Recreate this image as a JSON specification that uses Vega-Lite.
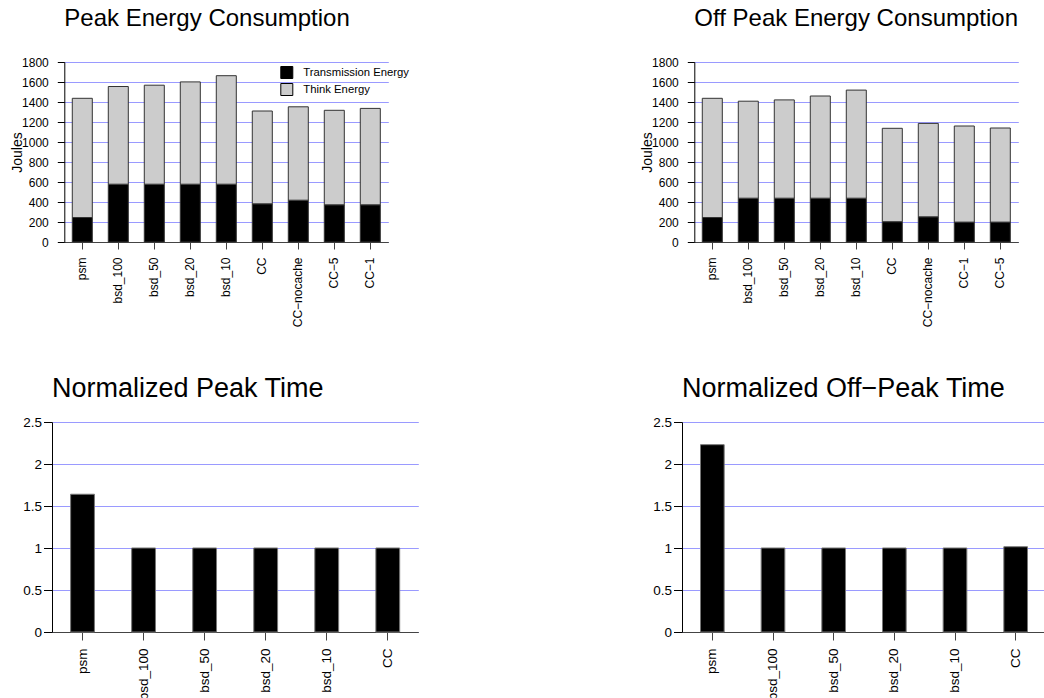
{
  "$schema": "https://vega.github.io/schema/vega-lite/v6.json",
  "background": "white",
  "padding": {"left": 10, "top": 7, "right": 0, "bottom": 0},
  "datasets": {
    "peak": [
      {"config": "psm", "series": "Transmission Energy", "joules": 245},
      {"config": "psm", "series": "Think Energy", "joules": 1192},
      {"config": "bsd_100", "series": "Transmission Energy", "joules": 578},
      {"config": "bsd_100", "series": "Think Energy", "joules": 977},
      {"config": "bsd_50", "series": "Transmission Energy", "joules": 578},
      {"config": "bsd_50", "series": "Think Energy", "joules": 990},
      {"config": "bsd_20", "series": "Transmission Energy", "joules": 578},
      {"config": "bsd_20", "series": "Think Energy", "joules": 1023},
      {"config": "bsd_10", "series": "Transmission Energy", "joules": 578},
      {"config": "bsd_10", "series": "Think Energy", "joules": 1085},
      {"config": "CC", "series": "Transmission Energy", "joules": 382},
      {"config": "CC", "series": "Think Energy", "joules": 928},
      {"config": "CC−nocache", "series": "Transmission Energy", "joules": 418},
      {"config": "CC−nocache", "series": "Think Energy", "joules": 934},
      {"config": "CC−5", "series": "Transmission Energy", "joules": 372},
      {"config": "CC−5", "series": "Think Energy", "joules": 945},
      {"config": "CC−1", "series": "Transmission Energy", "joules": 372},
      {"config": "CC−1", "series": "Think Energy", "joules": 964}
    ],
    "offpeak": [
      {"config": "psm", "series": "Transmission Energy", "joules": 245},
      {"config": "psm", "series": "Think Energy", "joules": 1192},
      {"config": "bsd_100", "series": "Transmission Energy", "joules": 438},
      {"config": "bsd_100", "series": "Think Energy", "joules": 970},
      {"config": "bsd_50", "series": "Transmission Energy", "joules": 438},
      {"config": "bsd_50", "series": "Think Energy", "joules": 983},
      {"config": "bsd_20", "series": "Transmission Energy", "joules": 438},
      {"config": "bsd_20", "series": "Think Energy", "joules": 1022},
      {"config": "bsd_10", "series": "Transmission Energy", "joules": 438},
      {"config": "bsd_10", "series": "Think Energy", "joules": 1081},
      {"config": "CC", "series": "Transmission Energy", "joules": 203},
      {"config": "CC", "series": "Think Energy", "joules": 934},
      {"config": "CC−nocache", "series": "Transmission Energy", "joules": 252},
      {"config": "CC−nocache", "series": "Think Energy", "joules": 934},
      {"config": "CC−1", "series": "Transmission Energy", "joules": 199},
      {"config": "CC−1", "series": "Think Energy", "joules": 961},
      {"config": "CC−5", "series": "Transmission Energy", "joules": 199},
      {"config": "CC−5", "series": "Think Energy", "joules": 941}
    ],
    "npeak": [
      {"config": "psm", "time": 1.64},
      {"config": "bsd_100", "time": 1.0},
      {"config": "bsd_50", "time": 1.0},
      {"config": "bsd_20", "time": 1.0},
      {"config": "bsd_10", "time": 1.0},
      {"config": "CC", "time": 1.0}
    ],
    "noffpeak": [
      {"config": "psm", "time": 2.23},
      {"config": "bsd_100", "time": 1.0},
      {"config": "bsd_50", "time": 1.0},
      {"config": "bsd_20", "time": 1.0},
      {"config": "bsd_10", "time": 1.0},
      {"config": "CC", "time": 1.015}
    ]
  },
  "config": {
    "font": "Liberation Sans",
    "view": {"stroke": null},
    "title": {"anchor": "start", "frame": "group", "fontWeight": "normal", "color": "#000000", "baseline": "alphabetic"},
    "axis": {
      "domainColor": "#000000", "tickColor": "#000000", "labelColor": "#000000", "titleColor": "#000000",
      "gridColor": "#9a9aff", "gridWidth": 1, "gridOpacity": 1, "domainWidth": 1, "tickWidth": 1,
      "titleFontWeight": "normal", "labelFlush": false, "labelOverlap": false
    },
    "legend": {
      "symbolType": "square", "symbolSize": 144, "symbolStrokeColor": "#000000", "symbolStrokeWidth": 1,
      "labelFontSize": 11.3, "labelColor": "#000000", "rowPadding": 0, "labelOffset": 10, "padding": 0
    }
  },
  "columns": 2,
  "spacing": {"row": 47, "column": 221},
  "concat": [
    {
      "data": {"name": "peak"},
      "title": {"text": "Peak Energy Consumption", "fontSize": 24, "offset": 25, "dx": 12.3},
      "width": 336.3, "height": 180,
      "mark": {"type": "bar", "stroke": "#333333", "strokeWidth": 1},
      "encoding": {
        "x": {"field": "config", "type": "nominal", "sort": null,
          "scale": {"paddingInner": 0.444, "paddingOuter": 0.222, "range": [12.3, 336.3]},
          "axis": {"title": null, "labelAngle": -90, "labelFontSize": 12, "tickSize": 7, "labelPadding": 8, "domainColor": "#444444", "tickColor": "#444444", "grid": false}},
        "y": {"field": "joules", "type": "quantitative", "stack": "zero",
          "scale": {"domain": [0, 1800], "nice": false},
          "axis": {"title": "Joules", "offset": -12.3, "values": [0, 200, 400, 600, 800, 1000, 1200, 1400, 1600, 1800], "format": "d", "grid": true,
            "labelFontSize": 12, "tickSize": 7, "labelPadding": 9, "titleFontSize": 14,
            "titleX": -47, "titleY": 90, "titleAngle": -90, "titleAlign": "center", "titleBaseline": "middle"}},
        "color": {"field": "series", "type": "nominal",
          "scale": {"domain": ["Transmission Energy", "Think Energy"], "range": ["#000000", "#cccccc"]},
          "legend": {"title": null, "orient": "none", "legendX": 228.3, "legendY": 4}},
        "order": {"field": "series", "sort": "descending"}
      }
    },
    {
      "data": {"name": "offpeak"},
      "title": {"text": "Off Peak Energy Consumption", "fontSize": 24, "offset": 25, "dx": 12.3},
      "width": 336.3, "height": 180,
      "mark": {"type": "bar", "stroke": "#333333", "strokeWidth": 1},
      "encoding": {
        "x": {"field": "config", "type": "nominal", "sort": null,
          "scale": {"paddingInner": 0.444, "paddingOuter": 0.222, "range": [12.3, 336.3]},
          "axis": {"title": null, "labelAngle": -90, "labelFontSize": 12, "tickSize": 7, "labelPadding": 8, "domainColor": "#444444", "tickColor": "#444444", "grid": false}},
        "y": {"field": "joules", "type": "quantitative", "stack": "zero",
          "scale": {"domain": [0, 1800], "nice": false},
          "axis": {"title": "Joules", "offset": -12.3, "values": [0, 200, 400, 600, 800, 1000, 1200, 1400, 1600, 1800], "format": "d", "grid": true,
            "labelFontSize": 12, "tickSize": 7, "labelPadding": 9, "titleFontSize": 14,
            "titleX": -47, "titleY": 90, "titleAngle": -90, "titleAlign": "center", "titleBaseline": "middle"}},
        "color": {"field": "series", "type": "nominal",
          "scale": {"domain": ["Transmission Energy", "Think Energy"], "range": ["#000000", "#cccccc"]},
          "legend": {"title": null, "orient": "none", "legendX": 228.3, "legendY": 4}},
        "order": {"field": "series", "sort": "descending"}
      }
    },
    {
      "data": {"name": "npeak"},
      "title": {"text": "Normalized Peak Time", "fontSize": 27, "offset": 12.5},
      "width": 366.3, "height": 210,
      "mark": {"type": "bar", "color": "#000000", "stroke": "#777777", "strokeWidth": 1},
      "encoding": {
        "x": {"field": "config", "type": "nominal", "sort": null,
          "scale": {"paddingInner": 0.61, "paddingOuter": 0.305},
          "axis": {"title": null, "labelAngle": -90, "labelFontSize": 13.5, "tickSize": 8, "labelPadding": 8, "domainColor": "#444444", "tickColor": "#444444", "grid": false}},
        "y": {"field": "time", "type": "quantitative",
          "scale": {"domain": [0, 2.5], "nice": false},
          "axis": {"title": null, "values": [0, 0.5, 1, 1.5, 2, 2.5], "format": "~g", "grid": true,
            "labelFontSize": 13.5, "tickSize": 8.5, "labelPadding": 2}}
      }
    },
    {
      "data": {"name": "noffpeak"},
      "title": {"text": "Normalized Off−Peak Time", "fontSize": 27, "offset": 12.5},
      "width": 364, "height": 210,
      "mark": {"type": "bar", "color": "#000000", "stroke": "#777777", "strokeWidth": 1},
      "encoding": {
        "x": {"field": "config", "type": "nominal", "sort": null,
          "scale": {"paddingInner": 0.61, "paddingOuter": 0.305},
          "axis": {"title": null, "labelAngle": -90, "labelFontSize": 13.5, "tickSize": 8, "labelPadding": 8, "domainColor": "#444444", "tickColor": "#444444", "grid": false}},
        "y": {"field": "time", "type": "quantitative",
          "scale": {"domain": [0, 2.5], "nice": false},
          "axis": {"title": null, "values": [0, 0.5, 1, 1.5, 2, 2.5], "format": "~g", "grid": true,
            "labelFontSize": 13.5, "tickSize": 8.5, "labelPadding": 2}}
      }
    }
  ]
}
